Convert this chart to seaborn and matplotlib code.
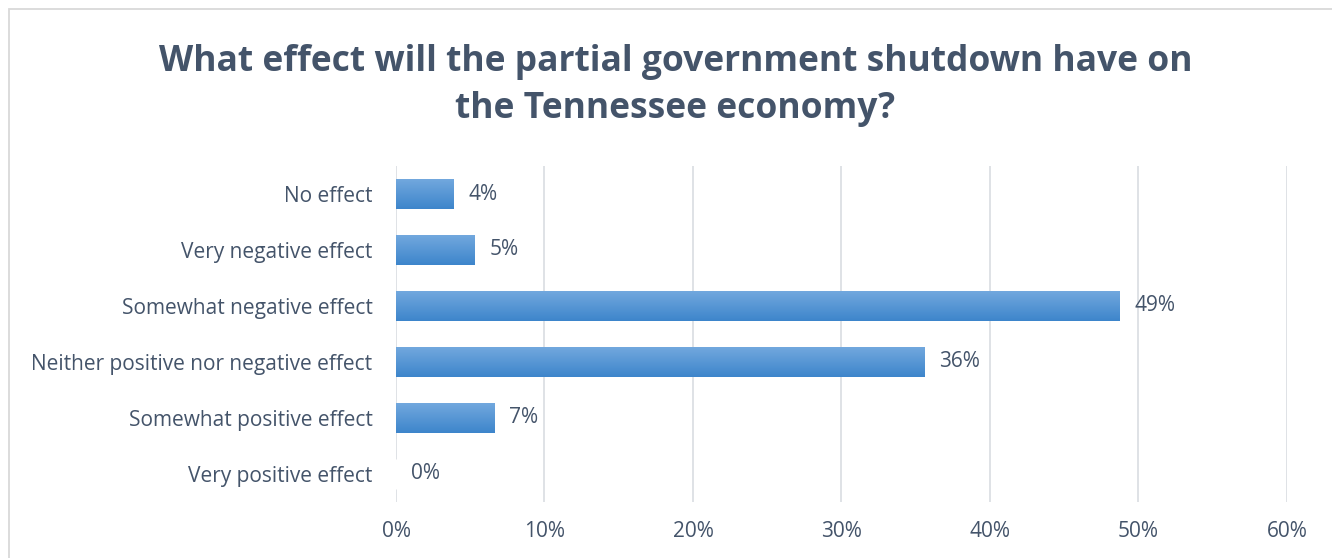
import matplotlib
matplotlib.use("Agg")
import matplotlib.pyplot as plt
import seaborn as sns
import pandas as pd
import numpy as np
from matplotlib.patches import Rectangle
from matplotlib.colors import LinearSegmentedColormap

categories = ["No effect", "Very negative effect", "Somewhat negative effect",
              "Neither positive nor negative effect", "Somewhat positive effect",
              "Very positive effect"]
values = [3.9, 5.3, 48.7, 35.6, 6.6, 0.0]
labels = ["4%", "5%", "49%", "36%", "7%", "0%"]
xticks = [0, 10, 20, 30, 40, 50, 60]
xticklabels = ["0%", "10%", "20%", "30%", "40%", "50%", "60%"]
title = "What effect will the partial government shutdown have on\nthe Tennessee economy?"

df = pd.DataFrame({"category": categories, "value": values})

sns.set_theme(style="white")
plt.rcParams["font.family"] = ["Open Sans", "DejaVu Sans"]
txt = "#44546a"
fs = 15

fig = plt.figure(figsize=(13.32, 5.58), dpi=100)
ax = fig.add_axes([0.2973, 0.1004, 0.6689, 0.6021])

sns.barplot(data=df, y="category", x="value", orient="h", color="#5B9BD5",
            width=0.52, saturation=1, ax=ax, zorder=3)

# gradient fill on bars (light top, darker bottom)
grad = np.linspace(0, 1, 256).reshape(-1, 1)
cmap = LinearSegmentedColormap.from_list("g", ["#72a8de", "#3d85cb"])
for p in ax.patches:
    x0, y0 = p.get_x(), p.get_y()
    w, h = p.get_width(), p.get_height()
    if w <= 0:
        continue
    p.set_facecolor("none")
    p.set_edgecolor("none")
    im = ax.imshow(grad, extent=[x0, x0 + w, y0 + h, y0], cmap=cmap,
                   aspect="auto", zorder=3, origin="upper")
    im.set_clip_path(p)

for i, (v, lab) in enumerate(zip(values, labels)):
    ax.text(v + 1.0, i, lab, va="center", ha="left", fontsize=fs, color=txt)

ax.set_xlim(0, 60)
ax.set_ylim(5.5, -0.5)
ax.set_xticks(xticks)
ax.set_xticklabels(xticklabels, fontsize=fs, color=txt)
ax.tick_params(axis="y", labelsize=fs, labelcolor=txt, length=0, pad=17)
ax.tick_params(axis="x", length=0, pad=14)
ax.set_xlabel("")
ax.set_ylabel("")
ax.grid(axis="x", color="#dcdfe4", linewidth=1.3, zorder=0)
ax.grid(axis="y", visible=False)
for s in ax.spines.values():
    s.set_visible(False)

fig.text(0.507, 0.847, title, ha="center", va="center", fontsize=25.5,
         fontweight="bold", color=txt, linespacing=1.42)

fig.patches.append(Rectangle((9 / 1332, -0.01), 1.02, 1 - 9 / 558 + 0.01,
                             transform=fig.transFigure, fill=False,
                             edgecolor="#d9d9d9", linewidth=1.3, zorder=0))

fig.savefig("out.png", dpi=100)
